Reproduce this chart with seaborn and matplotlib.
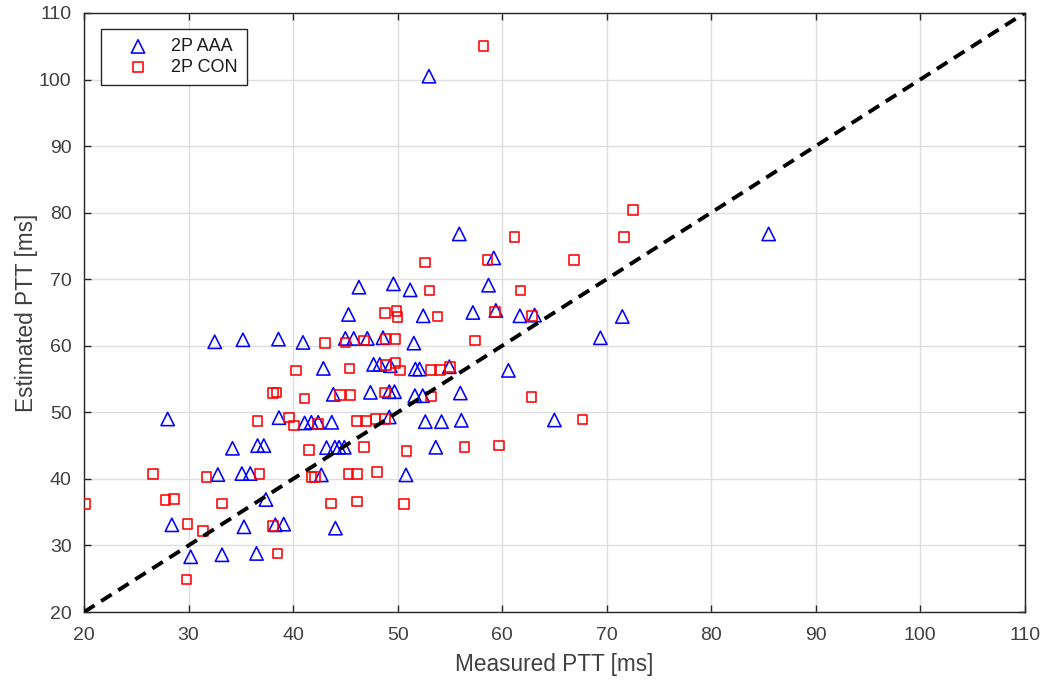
import matplotlib
matplotlib.use("Agg")
import matplotlib.pyplot as plt
import seaborn as sns
import pandas as pd

# Measured vs. estimated pulse transit time, two subject groups
aaa_measured = [53.0, 85.5, 55.9, 59.2, 46.3, 49.6, 51.2, 58.7, 45.3, 52.45,
                57.2, 59.4, 61.7, 63.1, 71.5, 69.4, 32.5, 35.2, 38.6, 40.95,
                45.0, 45.8, 47.1, 48.6, 51.55, 42.9, 47.7, 48.3, 49.3, 51.7,
                52.1, 54.95, 60.6, 43.85, 47.4, 49.2, 49.7, 51.65, 52.4, 56.0,
                28.0, 38.65, 41.1, 41.75, 42.4, 43.7, 49.2, 52.65, 54.2, 56.1,
                65.0, 34.2, 36.6, 37.2, 43.2, 44.0, 44.4, 44.9, 53.65, 32.8,
                35.1, 35.9, 42.7, 50.8, 37.4, 28.4, 35.3, 38.3, 39.1, 44.05,
                30.2, 33.2, 36.5]
aaa_estimated = [100.5, 76.8, 76.8, 73.2, 68.8, 69.3, 68.4, 69.1, 64.7, 64.5,
                 65.0, 65.3, 64.5, 64.6, 64.4, 61.2, 60.6, 60.9, 61.0, 60.5,
                 61.1, 61.1, 61.1, 61.2, 60.4, 56.6, 57.2, 57.2, 57.0, 56.5,
                 56.5, 56.85, 56.3, 52.7, 53.0, 53.1, 53.1, 52.5, 52.5, 52.9,
                 49.0, 49.2, 48.4, 48.5, 48.5, 48.5, 49.3, 48.6, 48.6, 48.8,
                 48.85, 44.6, 45.0, 45.0, 44.7, 44.75, 44.75, 44.75, 44.75, 40.65,
                 40.8, 40.8, 40.6, 40.6, 36.9, 33.1, 32.8, 33.1, 33.2, 32.6,
                 28.3, 28.6, 28.8]

con_measured = [58.2, 72.5, 61.2, 71.65, 52.6, 58.6, 66.9, 53.05, 61.75, 48.8,
                49.9, 50.0, 53.8, 59.3, 62.85, 43.05, 45.0, 46.8, 48.85, 49.8,
                57.4, 40.3, 45.4, 48.9, 49.8, 50.2, 53.2, 54.05, 55.0, 38.05,
                38.4, 41.1, 44.5, 45.5, 48.8, 53.2, 62.8, 36.6, 39.6, 40.1,
                42.4, 46.1, 47.0, 47.9, 48.8, 67.7, 41.5, 46.8, 50.85, 56.4,
                59.7, 26.6, 31.7, 36.8, 41.75, 42.1, 45.3, 46.1, 48.0, 20.1,
                27.8, 28.6, 33.2, 43.6, 46.1, 50.6, 29.9, 31.4, 38.1, 38.5,
                29.8]
con_estimated = [105.0, 80.4, 76.3, 76.3, 72.5, 72.9, 72.9, 68.3, 68.3, 64.9,
                 65.2, 64.3, 64.4, 65.1, 64.45, 60.4, 60.5, 60.8, 61.0, 61.0,
                 60.8, 56.3, 56.6, 57.1, 57.4, 56.3, 56.4, 56.4, 56.8, 52.9,
                 53.0, 52.1, 52.6, 52.6, 53.0, 52.35, 52.3, 48.65, 49.2, 48.0,
                 48.2, 48.7, 48.7, 49.0, 49.0, 48.9, 44.35, 44.8, 44.15, 44.8,
                 45.0, 40.7, 40.25, 40.7, 40.25, 40.25, 40.7, 40.7, 41.0, 36.2,
                 36.8, 37.0, 36.3, 36.3, 36.6, 36.2, 33.2, 32.2, 32.9, 28.8,
                 24.9]

identity = [20, 110]
group_labels = ["2P AAA", "2P CON"]
x_ticks = list(range(20, 111, 10))
y_ticks = list(range(20, 111, 10))

sns.set_theme(style="white")
plt.rcParams["font.family"] = ["Liberation Sans", "DejaVu Sans"]

text_color = "#262626"
fig = plt.figure(figsize=(10.48, 6.81), dpi=100)
ax = fig.add_axes([0.0802, 0.1013, 0.8976, 0.8797])

aaa = pd.DataFrame({"measured": aaa_measured, "estimated": aaa_estimated})
con = pd.DataFrame({"measured": con_measured, "estimated": con_estimated})

sns.scatterplot(data=aaa, x="measured", y="estimated", ax=ax, marker="^",
                s=92, facecolor="none", edgecolor="#0000ff", linewidth=1.15,
                label=group_labels[0], zorder=3)
sns.scatterplot(data=con, x="measured", y="estimated", ax=ax, marker="s",
                s=48, facecolor="none", edgecolor="#ff0000", linewidth=1.15,
                label=group_labels[1], zorder=3)

# Line of identity
sns.lineplot(x=identity, y=identity, ax=ax, color="black", linewidth=2.8,
             dashes=False, zorder=4, legend=False)
ax.lines[-1].set_dashes([3.2, 2.0])

ax.set_xlim(20, 110)
ax.set_ylim(20, 110)
ax.set_xticks(x_ticks)
ax.set_yticks(y_ticks)
ax.grid(True, color="#dedede", linewidth=1.0)
ax.set_axisbelow(True)

for spine in ax.spines.values():
    spine.set_visible(True)
    spine.set_color(text_color)
    spine.set_linewidth(1.0)

ax.tick_params(axis="both", which="both", direction="in", length=5, width=1.0,
               colors=text_color, labelsize=14, top=True, right=True,
               labeltop=False, labelright=False, bottom=True, left=True, pad=9)
ax.tick_params(axis="x", pad=11)
for lbl in ax.get_xticklabels() + ax.get_yticklabels():
    lbl.set_color("#404040")

ax.set_xlabel("Measured PTT [ms]", fontsize=16.3, color="#404040", labelpad=6)
ax.set_ylabel("Estimated PTT [ms]", fontsize=16.3, color="#404040", labelpad=1)

leg = ax.legend(loc="upper left", bbox_to_anchor=(0.018, 0.973),
                borderaxespad=0, fancybox=False, framealpha=1,
                edgecolor=text_color, fontsize=13, handletextpad=0.28,
                borderpad=0.5, labelspacing=0.2, handlelength=3.1)
leg.get_frame().set_linewidth(1.0)
for t in leg.get_texts():
    t.set_color("#1a1a1a")

fig.savefig("out.png", dpi=100, facecolor="white")
